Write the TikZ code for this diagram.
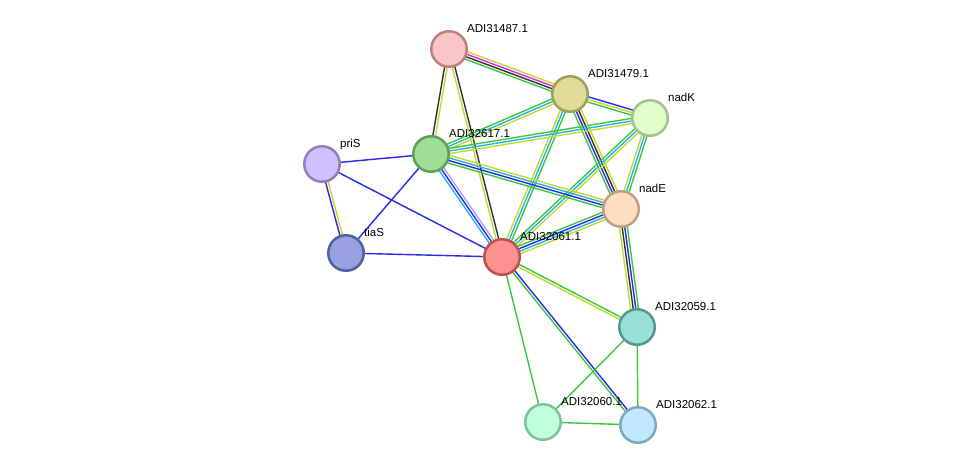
\documentclass[tikz,border=0pt]{standalone}
\usepackage{fontspec}
\setmainfont{Liberation Sans}
\usetikzlibrary{calc,backgrounds}
\definecolor{ctm}{RGB}{200,216,50}
\definecolor{cnb}{RGB}{60,200,60}
\definecolor{cco}{RGB}{40,40,240}
\definecolor{cex}{RGB}{50,50,50}
\definecolor{cdb}{RGB}{40,180,225}
\definecolor{cxp}{RGB}{225,40,225}
\definecolor{cho}{RGB}{165,165,255}
\newcommand\medge[4]{%
  \foreach \cc [count=\ii] in {#4} {%
    \pgfmathsetmacro\off{(\ii-(#3+1)/2)*2.6}%
    \draw[\cc, edgeline] ($(#1.center)!\off pt!90:(#2.center)$) -- ($(#2.center)!\off pt!-90:(#1.center)$);
  }}
\begin{document}
\begin{tikzpicture}[x=1pt,y=-1pt,
  prot/.style={circle,minimum size=35.5pt,inner sep=0pt,line width=2.5pt},
  lbl/.style={anchor=base west,font=\fontsize{11.5}{12}\selectfont,inner sep=0pt,text=black},
  edgeline/.style={line width=1.4pt}]
\node[prot,fill={rgb,255:red,248;green,198;blue,198},draw={rgb,255:red,192;green,128;blue,128}] (n31487) at (449,49) {};
\node[prot,fill={rgb,255:red,222;green,220;blue,152},draw={rgb,255:red,160;green,160;blue,90}] (n31479) at (570,94) {};
\node[prot,fill={rgb,255:red,224;green,255;blue,200},draw={rgb,255:red,168;green,192;blue,144}] (nadK) at (650,118) {};
\node[prot,fill={rgb,255:red,158;green,222;blue,152},draw={rgb,255:red,96;green,160;blue,88}] (n32617) at (431,154) {};
\node[prot,fill={rgb,255:red,208;green,192;blue,255},draw={rgb,255:red,144;green,128;blue,192}] (priS) at (322,164) {};
\node[prot,fill={rgb,255:red,255;green,221;blue,192},draw={rgb,255:red,192;green,160;blue,128}] (nadE) at (621,209) {};
\node[prot,fill={rgb,255:red,152;green,160;blue,224},draw={rgb,255:red,80;green,96;blue,160}] (tiaS) at (346,253) {};
\node[prot,fill={rgb,255:red,255;green,144;blue,144},draw={rgb,255:red,192;green,80;blue,80}] (n32061) at (502,257) {};
\node[prot,fill={rgb,255:red,152;green,224;blue,216},draw={rgb,255:red,80;green,152;blue,144}] (n32059) at (637,327) {};
\node[prot,fill={rgb,255:red,192;green,255;blue,216},draw={rgb,255:red,128;green,192;blue,160}] (n32060) at (543,422) {};
\node[prot,fill={rgb,255:red,192;green,232;blue,255},draw={rgb,255:red,128;green,168;blue,192}] (n32062) at (638,425) {};

\node[lbl] (l31487) at ($(n31487.center)+(18,-17)$) {ADI31487.1};
\node[lbl] (l31479) at ($(n31479.center)+(18,-17)$) {ADI31479.1};
\node[lbl] (lnadK) at ($(nadK.center)+(18,-17)$) {nadK};
\node[lbl] (l32617) at ($(n32617.center)+(18,-17)$) {ADI32617.1};
\node[lbl] (lpriS) at ($(priS.center)+(18,-17)$) {priS};
\node[lbl] (lnadE) at ($(nadE.center)+(18,-17)$) {nadE};
\node[lbl] (ltiaS) at ($(tiaS.center)+(18,-17)$) {tiaS};
\node[lbl] (l32061) at ($(n32061.center)+(18,-17)$) {ADI32061.1};
\node[lbl] (l32059) at ($(n32059.center)+(18,-17)$) {ADI32059.1};
\node[lbl] (l32060) at ($(n32060.center)+(18,-17)$) {ADI32060.1};
\node[lbl] (l32062) at ($(n32062.center)+(18,-17)$) {ADI32062.1};

\begin{pgfonlayer}{background}
\fill[white] (0,0) rectangle (976,471);
\useasboundingbox (0,0) rectangle (976,471);
\medge{n31487}{n31479}{4}{cnb,cex,cxp,ctm}
\medge{n31487}{n32617}{2}{cex,ctm}
\medge{n31487}{n32061}{2}{ctm,cex}
\medge{n31479}{nadK}{3}{cnb,ctm,cco}
\medge{n31479}{n32617}{3}{cnb,cdb,ctm}
\medge{n31479}{nadE}{4}{cnb,cco,cex,ctm}
\medge{n31479}{n32061}{3}{ctm,cdb,cnb}
\medge{nadK}{n32617}{3}{cnb,cdb,ctm}
\medge{nadK}{nadE}{3}{ctm,cdb,cnb}
\medge{nadK}{n32061}{3}{cnb,cdb,ctm}
\medge{n32617}{nadE}{4}{cnb,cco,cdb,ctm}
\medge{n32617}{n32061}{3}{cdb,cco,cho}
\medge{n32617}{priS}{1}{cco}
\medge{n32617}{tiaS}{1}{cco}
\medge{priS}{tiaS}{2}{cco,ctm}
\medge{priS}{n32061}{1}{cco}
\medge{tiaS}{n32061}{1}{cco}
\medge{nadE}{n32061}{4}{cnb,cco,cdb,ctm}
\medge{nadE}{n32059}{4}{ctm,cex,cco,cnb}
\medge{n32061}{n32059}{2}{ctm,cnb}
\medge{n32061}{n32062}{2}{cnb,cco}
\medge{n32061}{n32060}{1}{cnb}
\medge{n32059}{n32060}{1}{cnb}
\medge{n32059}{n32062}{1}{cnb}
\medge{n32060}{n32062}{1}{cnb}
\end{pgfonlayer}
\end{tikzpicture}
\end{document}
